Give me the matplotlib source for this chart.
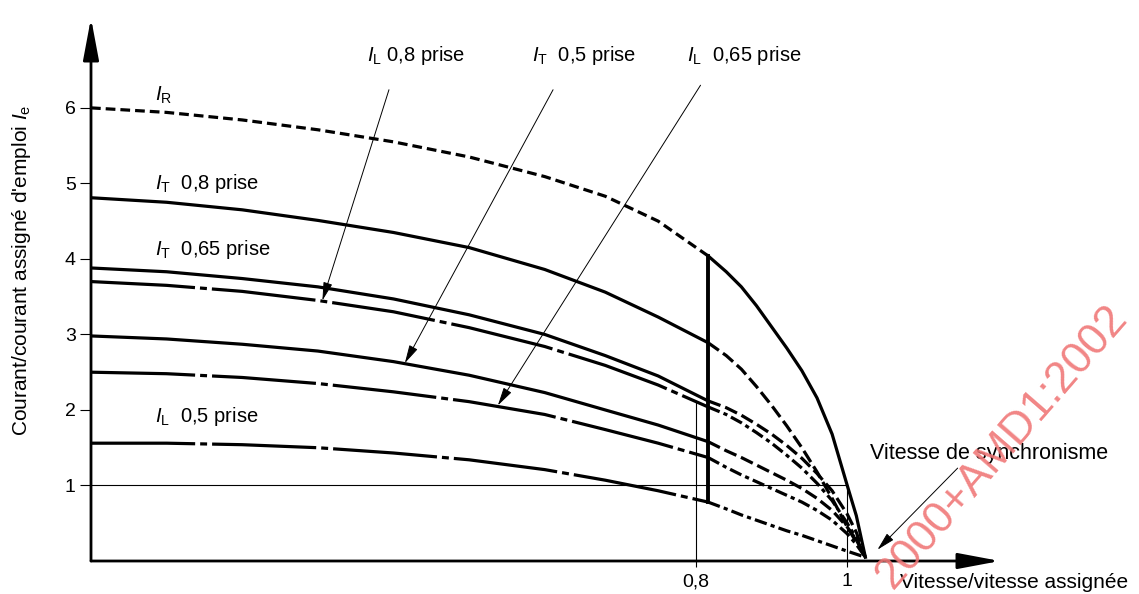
import matplotlib
matplotlib.use("Agg")
import matplotlib.pyplot as plt

plt.rcParams['font.family'] = ['Liberation Sans', 'DejaVu Sans']
plt.rcParams['mathtext.fontset'] = 'custom'
plt.rcParams['mathtext.rm'] = 'Liberation Sans'
plt.rcParams['mathtext.it'] = 'Liberation Sans:italic'
plt.rcParams['lines.scale_dashes'] = False

# vitesse/vitesse assignée : avant la limite verticale, puis jusqu'au synchronisme
x_left = [0, 0.1, 0.2, 0.3, 0.4, 0.5, 0.6, 0.68, 0.75, 0.816]
x_right = [0.816, 0.84, 0.86, 0.88, 0.90, 0.92, 0.94, 0.96, 0.98, 1.0, 1.012, 1.024]

# courant / courant assigné d'emploi
ir_left = [6.00, 5.94, 5.84, 5.71, 5.55, 5.35, 5.09, 4.83, 4.50, 4.04]
ir_right = [4.04, 3.83, 3.63, 3.38, 3.10, 2.82, 2.52, 2.16, 1.68, 1.00, 0.60, 0.05]
it08_left = [4.81, 4.75, 4.65, 4.51, 4.35, 4.15, 3.86, 3.56, 3.23, 2.89]
it08_right = [2.89, 2.72, 2.54, 2.31, 2.06, 1.79, 1.50, 1.18, 0.83, 0.45, 0.25, 0.05]
it065_left = [3.88, 3.83, 3.74, 3.63, 3.47, 3.26, 3.00, 2.72, 2.45, 2.12]
it065_right = [2.12, 2.03, 1.93, 1.81, 1.68, 1.53, 1.36, 1.16, 0.93, 0.62, 0.38, 0.05]
il08_left = [3.70, 3.65, 3.57, 3.45, 3.30, 3.09, 2.84, 2.59, 2.33, 2.04]
il08_right = [2.04, 1.94, 1.83, 1.70, 1.56, 1.40, 1.23, 1.03, 0.80, 0.50, 0.30, 0.05]
it05_left = [2.98, 2.94, 2.87, 2.78, 2.64, 2.46, 2.23, 2.00, 1.80, 1.58]
it05_right = [1.58, 1.46, 1.37, 1.27, 1.17, 1.07, 0.96, 0.83, 0.67, 0.45, 0.28, 0.05]
il065_left = [2.50, 2.48, 2.43, 2.35, 2.24, 2.11, 1.94, 1.74, 1.56, 1.37]
il065_right = [1.37, 1.24, 1.14, 1.05, 0.96, 0.87, 0.78, 0.67, 0.54, 0.36, 0.22, 0.05]
il05_left = [1.56, 1.56, 1.54, 1.50, 1.43, 1.34, 1.21, 1.07, 0.93, 0.78]
il05_right = [0.78, 0.69, 0.61, 0.54, 0.47, 0.40, 0.34, 0.27, 0.20, 0.13, 0.09, 0.05]

y_ticks = [1, 2, 3, 4, 5, 6]
x_ticks = [0.8, 1]
x_ticklabels = ['0,8', '1']

x_max = 1.202
y_max = 7.19

FS = 14.5
LW = 2.3
dash_ir = (0, (7, 3.6))
dash_t = (0, (9.5, 3.6))
dashdot_long = (0, (75, 3.6, 5, 3.6))
dashdot_short = (0, (9, 3, 3, 3))

fig = plt.figure(figsize=(11.39, 5.94), dpi=100)
ax = fig.add_axes([91 / 1139, 33 / 594, (1000 - 91) / 1139, (561 - 18) / 594])
ax.set_xlim(0, x_max)
ax.set_ylim(0, y_max)
for s in ax.spines.values():
    s.set_visible(False)

# courbes
ax.plot(x_left, ir_left, color='k', lw=LW, linestyle=dash_ir)
ax.plot(x_right, ir_right, color='k', lw=LW)
for yl, yr in [(it08_left, it08_right), (it065_left, it065_right), (it05_left, it05_right)]:
    ax.plot(x_left, yl, color='k', lw=LW, solid_capstyle='butt')
    ax.plot(x_right, yr, color='k', lw=LW, linestyle=dash_t)
for yl, yr in [(il08_left, il08_right), (il065_left, il065_right), (il05_left, il05_right)]:
    ax.plot(x_left, yl, color='k', lw=LW, linestyle=dashdot_long)
    ax.plot(x_right, yr, color='k', lw=LW, linestyle=dashdot_short)

# limite verticale
ax.plot([x_left[-1], x_left[-1]], [il05_left[-1], ir_left[-1]], color='k', lw=2.8)

# lignes fines de repère
ax.plot([0, 1], [1, 1], color='k', lw=0.8)
ax.plot([1, 1], [0, 1], color='k', lw=0.8)
ax.plot([0.8, 0.8], [0, 2.11], color='k', lw=0.8)

# axes avec flèches
axis_arrow = dict(arrowstyle='-|>,head_length=1.6,head_width=0.3', lw=2, color='k',
                  shrinkA=0, shrinkB=0, mutation_scale=16)
ax.annotate('', xy=(x_max, 0), xytext=(0, 0), arrowprops=axis_arrow, annotation_clip=False)
ax.annotate('', xy=(0, y_max), xytext=(0, 0), arrowprops=axis_arrow, annotation_clip=False)

ax.set_yticks(y_ticks)
ax.set_yticklabels([str(t) for t in y_ticks])
ax.set_xticks(x_ticks)
ax.set_xticklabels(x_ticklabels)
ax.tick_params(axis='y', direction='out', length=8, width=0.8, pad=3, labelsize=14)
ax.tick_params(axis='x', direction='out', length=4, width=0.8, pad=5, labelsize=14)

# étiquettes des courbes
ax.text(0.085, 6.17, r'$I_\mathrm{R}$', fontsize=FS, va='center')
ax.text(0.085, 5.0, r'$I_\mathrm{T}$  0,8 prise', fontsize=FS, va='center')
ax.text(0.085, 4.12, r'$I_\mathrm{T}$  0,65 prise', fontsize=FS, va='center')
ax.text(0.085, 1.91, r'$I_\mathrm{L}$  0,5 prise', fontsize=FS, va='center')
ax.text(0.365, 6.70, r'$I_\mathrm{L}$ 0,8 prise', fontsize=FS, va='center')
ax.text(0.583, 6.70, r'$I_\mathrm{T}$  0,5 prise', fontsize=FS, va='center')
ax.text(0.788, 6.70, r'$I_\mathrm{L}$  0,65 prise', fontsize=FS, va='center')
ax.text(1.030, 1.43, 'Vitesse de synchronisme', fontsize=15.5, va='center')
ax.text(1.070, -0.29, 'Vitesse/vitesse assignée', fontsize=15, va='center', clip_on=False)

# lignes de rappel
leader = dict(arrowstyle='-|>,head_length=0.8,head_width=0.2', lw=0.7, color='k',
              shrinkA=0, shrinkB=0, mutation_scale=14)
ax.annotate('', xy=(0.306, 3.45), xytext=(0.394, 6.24), arrowprops=leader)
ax.annotate('', xy=(0.415, 2.62), xytext=(0.611, 6.24), arrowprops=leader)
ax.annotate('', xy=(0.538, 2.06), xytext=(0.806, 6.30), arrowprops=leader)
ax.annotate('', xy=(1.040, 0.15), xytext=(1.146, 1.23), arrowprops=leader)

fig.text(22 / 1139, 1 - 270 / 594, r"Courant/courant assigné d'emploi $I_\mathrm{e}$",
         rotation=90, ha='center', va='center', fontsize=15)

# filigrane
fig.text(893 / 1139, (594 - 590) / 594, '2000+AMD1:2002', color='#f07878',
         fontsize=32, rotation=49, rotation_mode='anchor', ha='left', va='baseline', alpha=0.9)

fig.savefig('out.png', dpi=100)
